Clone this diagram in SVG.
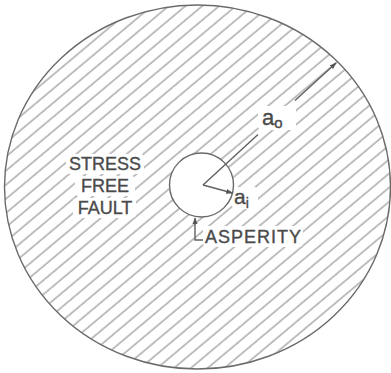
<svg xmlns="http://www.w3.org/2000/svg" width="391" height="373" viewBox="0 0 391 373">
<style>
.outline{fill:none;stroke:#6a6a6a;stroke-width:1.4}
.lbl{font-family:"Liberation Sans",Arial,sans-serif;fill:#4a4a4a;stroke:#4a4a4a;stroke-width:0.35;font-size:18px}
.dim{fill:none;stroke:#606060;stroke-width:1.4}
.wipe{fill:#fff;stroke:none}
</style>
<defs>
<pattern id="hatch" patternUnits="userSpaceOnUse" width="10.8" height="10.8" patternTransform="rotate(-40)">
<line x1="0" y1="5" x2="10.8" y2="5" stroke="#8a8a8a" stroke-width="1.1"/>
</pattern>
<marker id="arr" viewBox="0 0 10 10" refX="9" refY="5" markerWidth="7" markerHeight="7" orient="auto" markerUnits="userSpaceOnUse">
<path d="M0,1.5 L10,5 L0,8.5 z" fill="#555"/>
</marker>
</defs>
<rect width="391" height="373" fill="#fff"/>
<g id="fault">
<ellipse cx="197.5" cy="187" rx="193" ry="182" fill="url(#hatch)"/>
<ellipse class="outline" cx="197.5" cy="187" rx="193" ry="182"/>
</g>
<g id="label-areas">
<rect class="wipe" x="66" y="154" width="78" height="20" rx="4"/>
<rect class="wipe" x="75" y="176" width="60" height="20" rx="4"/>
<rect class="wipe" x="73" y="198" width="63" height="20" rx="4"/>
<rect class="wipe" x="203" y="226" width="100" height="21" rx="4"/>
<rect class="wipe" x="258" y="106" width="38" height="24" rx="4"/>
<rect class="wipe" x="232" y="187" width="26" height="22" rx="4"/>
</g>
<g id="asperity">
<circle cx="201.5" cy="185" r="32" fill="#fff" stroke="#6a6a6a" stroke-width="1.4"/>
</g>
<g id="connectors">
<line class="dim" x1="203" y1="185" x2="258" y2="134.5"/>
<line class="dim" x1="295" y1="100.5" x2="336" y2="63" marker-end="url(#arr)"/>
<line class="dim" x1="203" y1="185" x2="232.5" y2="193" marker-end="url(#arr)"/>
<polyline class="dim" points="203,240 195,240 195,218"/>
<path d="M195,217.5 L192.5,224 L197.5,224 z" fill="#555"/>
</g>
<g id="labels">
<text class="lbl" x="105" y="170" text-anchor="middle">STRESS</text>
<text class="lbl" x="105" y="192" text-anchor="middle">FREE</text>
<text class="lbl" x="105" y="214" text-anchor="middle">FAULT</text>
<text class="lbl" x="205" y="243" textLength="96">ASPERITY</text>
<text class="lbl" x="262" y="125" style="font-size:22px">a<tspan dy="3" style="font-size:15px">o</tspan></text>
<text class="lbl" x="234" y="204" style="font-size:21px">a<tspan dy="4" style="font-size:14px">i</tspan></text>
</g>
</svg>
